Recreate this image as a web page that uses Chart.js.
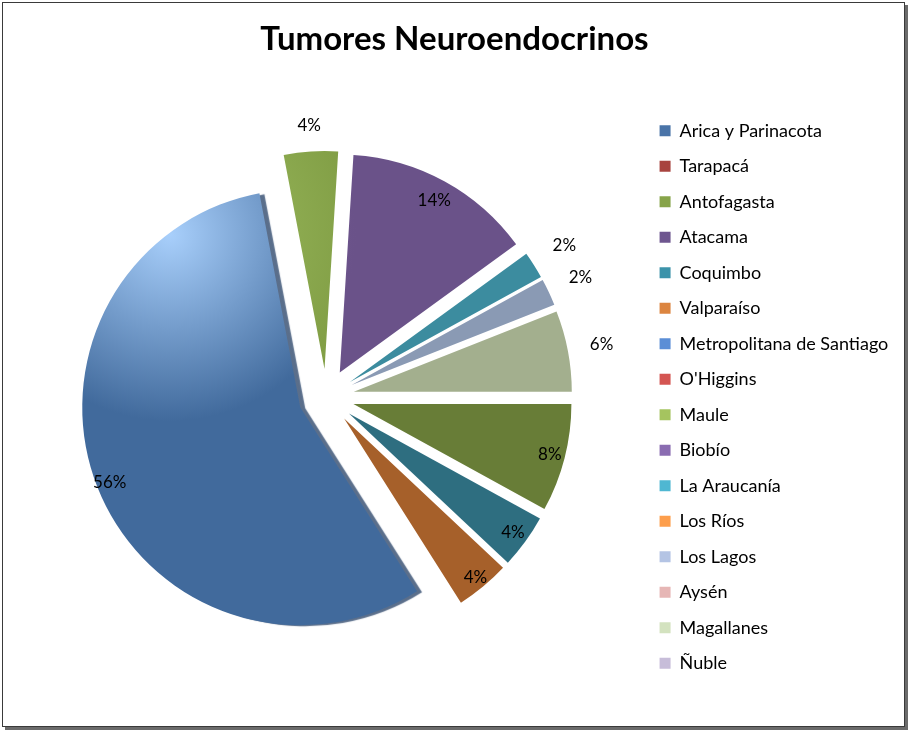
<!DOCTYPE html>
<html>
<head>
<meta charset="utf-8">
<title>Tumores Neuroendocrinos</title>
<script src="https://cdn.jsdelivr.net/npm/chart.js@4.4.1/dist/chart.umd.min.js"></script>
<style>
  html, body { margin: 0; padding: 0; background: #fff; }
  #frame {
    position: absolute; left: 2px; top: 2px; width: 901px; height: 723px;
    border: 1px solid #3a3a3a; box-shadow: 3px 3px 0 #6b6b6b;
  }
  #wrap { position: absolute; left: 0; top: 0; width: 914px; height: 732px; }
</style>
</head>
<body>
<div id="frame"></div>
<div id="wrap"><canvas id="chart"></canvas></div>
<script>
// Regions of Chile (legend order) and number of cases per region
const REGIONS = [
  'Arica y Parinacota', 'Tarapacá', 'Antofagasta', 'Atacama', 'Coquimbo',
  'Valparaíso', 'Metropolitana de Santiago', "O'Higgins", 'Maule', 'Biobío',
  'La Araucanía', 'Los Ríos', 'Los Lagos', 'Aysén', 'Magallanes', 'Ñuble'
];
const CASES = [0, 0, 4, 0, 2, 2, 28, 0, 2, 7, 1, 0, 1, 0, 3, 0];

// Legend swatches (Excel palette)
const LEGEND_COLORS = [
  '#4a74a8', '#a8443f', '#87a44a', '#6e568f', '#3c93aa', '#dc8540',
  '#5b8ed6', '#d45552', '#a5c45f', '#8a6cb1', '#4fb7d2', '#fd9e4c',
  '#b4c4e4', '#e6b6b5', '#d3e2bf', '#c7bdd9'
];
// Slice fills: base colour and highlight colour (lit from top-left)
const SLICE_BASE = [
  '#416a9c', '#a8443f', '#687d37', '#6e568f', '#2e6e80', '#a6602a',
  '#416a9c', '#d45552', '#829f46', '#6a5289', '#3c8c9f', '#fd9e4c',
  '#8a9ab4', '#e6b6b5', '#a3af8e', '#c7bdd9'
];
const SLICE_LIGHT = [
  '#a8cffb', '#d06660', '#88a055', '#8a74aa', '#4a90a5', '#c8804a',
  '#a8cffb', '#e07a78', '#a0c062', '#7a62a0', '#52a0b4', '#ffc080',
  '#a6b6cf', '#f0cccc', '#b9c6a2', '#d6cfe4'
];
// Radial position of each percentage label, as a fraction of the radius
const LABEL_POS = [0, 0, 0.93, 0, 0.93, 0.945, 0.94, 0, 1.12, 0.90, 1.165, 0, 1.16, 0, 1.157, 0];
const EXPLODE = 28;
const RADIUS = 218;

const total = CASES.reduce((a, b) => a + b, 0);

function sliceFill(ctx) {
  const chart = ctx.chart;
  const area = chart.chartArea;
  if (!area) return SLICE_BASE[ctx.dataIndex];
  const cx = (area.left + area.right) / 2;
  const cy = (area.top + area.bottom) / 2;
  const hx = cx - 156, hy = cy - 162;
  const g = chart.ctx.createRadialGradient(hx, hy, 0, hx, hy, 300);
  g.addColorStop(0, SLICE_LIGHT[ctx.dataIndex]);
  g.addColorStop(0.62, SLICE_BASE[ctx.dataIndex]);
  g.addColorStop(1, SLICE_BASE[ctx.dataIndex]);
  return g;
}

// push every slice outward along its mid angle
const explodePlugin = {
  id: 'explode',
  afterDatasetUpdate(chart, args) {
    args.meta.data.forEach(arc => {
      const mid = (arc.startAngle + arc.endAngle) / 2;
      arc.x += Math.cos(mid) * EXPLODE;
      arc.y += Math.sin(mid) * EXPLODE;
    });
  },
  beforeDatasetDraw(chart, args) {
    const ctx = chart.ctx;
    args.meta.data.forEach((arc, i) => {
      ctx.save();
      if (i === 6) {
        ctx.shadowColor = 'rgba(35,62,100,0.75)';
        ctx.shadowOffsetX = 5;
        ctx.shadowOffsetY = 1;
        ctx.shadowBlur = 1;
      }
      arc.draw(ctx);
      ctx.restore();
    });
    return false;
  }
};

const labelPlugin = {
  id: 'pctLabels',
  afterDatasetsDraw(chart) {
    const ctx = chart.ctx;
    const meta = chart.getDatasetMeta(0);
    ctx.save();
    ctx.font = '17px Lato';
    ctx.fillStyle = '#000';
    ctx.textAlign = 'center';
    ctx.textBaseline = 'middle';
    meta.data.forEach((arc, i) => {
      if (!CASES[i]) return;
      const mid = (arc.startAngle + arc.endAngle) / 2;
      const r = arc.outerRadius * LABEL_POS[i];
      const pct = Math.round(CASES[i] / total * 100) + '%';
      ctx.fillText(pct, arc.x + Math.cos(mid) * r, arc.y + Math.sin(mid) * r);
    });
    ctx.restore();
  }
};

new Chart(document.getElementById('chart'), {
  type: 'pie',
  data: {
    labels: REGIONS,
    datasets: [{
      data: CASES,
      backgroundColor: sliceFill,
      borderWidth: 0
    }]
  },
  options: {
    responsive: true,
    maintainAspectRatio: false,
    animation: false,
    rotation: 90,
    radius: RADIUS,
    layout: { padding: { left: 10.5, right: 15.7, top: 8, bottom: 42 } },
    plugins: {
      title: {
        display: true,
        text: 'Tumores Neuroendocrinos',
        color: '#000',
        font: { family: 'Lato', size: 33, weight: 'bold', lineHeight: 1.2 },
        padding: { top: 12, bottom: 44.4 }
      },
      legend: {
        position: 'right',
        fullSize: false,
        labels: {
          color: '#000',
          font: { family: 'Lato', size: 18 },
          boxWidth: 11,
          boxHeight: 11,
          padding: 17.5,
          generateLabels(chart) {
            return chart.data.labels.map((text, i) => ({
              text,
              fillStyle: LEGEND_COLORS[i],
              strokeStyle: LEGEND_COLORS[i],
              lineWidth: 0,
              hidden: false,
              index: i,
              fontColor: '#000'
            }));
          }
        }
      },
      tooltip: { enabled: false }
    }
  },
  plugins: [explodePlugin, labelPlugin]
});
</script>
</body>
</html>
